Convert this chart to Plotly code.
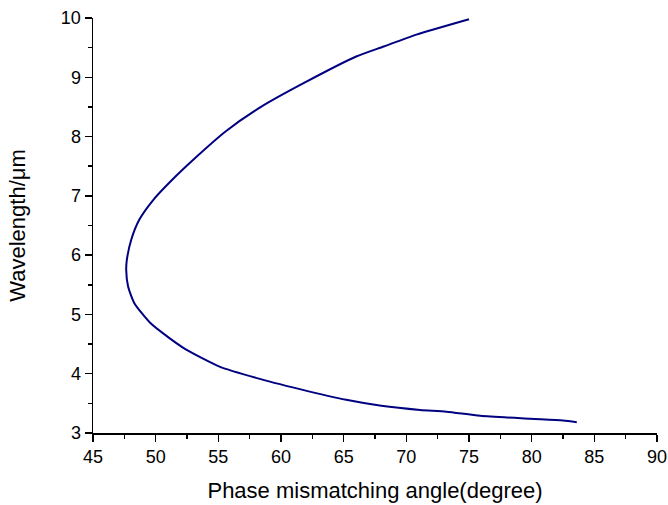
import plotly.graph_objects as go

# Phase mismatching angle (degree) vs wavelength (um)
angle = [83.6, 82.5, 79.9, 75.9, 73.2, 71.1, 68.0, 65.2, 61.5, 58.0, 55.1, 52.4,
         51.1, 49.6, 48.3, 47.8, 47.65, 47.7, 48.05, 48.7, 49.8, 51.6, 53.0, 55.6,
         58.4, 61.8, 66.0, 68.2, 70.8, 75.0]
wavelength = [3.18, 3.21, 3.24, 3.29, 3.36, 3.39, 3.46, 3.56, 3.74, 3.93, 4.12, 4.41,
              4.60, 4.85, 5.19, 5.47, 5.75, 5.92, 6.26, 6.60, 6.93, 7.33, 7.61, 8.09,
              8.50, 8.90, 9.35, 9.52, 9.72, 9.98]

x_ticks = [45, 50, 55, 60, 65, 70, 75, 80, 85, 90]
y_ticks = [3, 4, 5, 6, 7, 8, 9, 10]

font_family = "Arial, Liberation Sans, sans-serif"

fig = go.Figure()
fig.add_trace(go.Scatter(
    x=angle, y=wavelength, mode="lines",
    line=dict(color="#000080", width=2, shape="spline", smoothing=0.6),
    showlegend=False, hoverinfo="skip"))

axis_common = dict(
    showline=True, linecolor="black", linewidth=1.5, mirror=False,
    showgrid=False, zeroline=False, automargin=False,
    ticks="outside", ticklen=7, tickwidth=1.5, tickcolor="black",
    tickfont=dict(family=font_family, size=18, color="black"),
)

fig.update_layout(
    width=668, height=505,
    margin=dict(l=93, r=11, t=18, b=72),
    paper_bgcolor="white", plot_bgcolor="white",
    font=dict(family=font_family, color="black"),
    xaxis=dict(range=[45, 90], tickvals=x_ticks,
               minor=dict(ticks="outside", ticklen=4, tickwidth=1.5, tickcolor="black", dtick=2.5, tick0=45, showgrid=False),
               title=dict(text="Phase mismatching angle(degree)", font=dict(size=22, family=font_family), standoff=16),
               **axis_common),
    yaxis=dict(range=[3, 10], tickvals=y_ticks,
               minor=dict(ticks="outside", ticklen=4, tickwidth=1.5, tickcolor="black", dtick=0.5, tick0=3, showgrid=False),
               title=dict(text="Wavelength/μm", font=dict(size=22, family=font_family), standoff=29),
               **axis_common),
)

# remove the page's default body margin so the 668x505 figure fills the window
fig.write_html("out.html",
               config={"displayModeBar": False, "staticPlot": True},
               post_script="document.body.style.margin='0';document.body.style.overflow='hidden';")
